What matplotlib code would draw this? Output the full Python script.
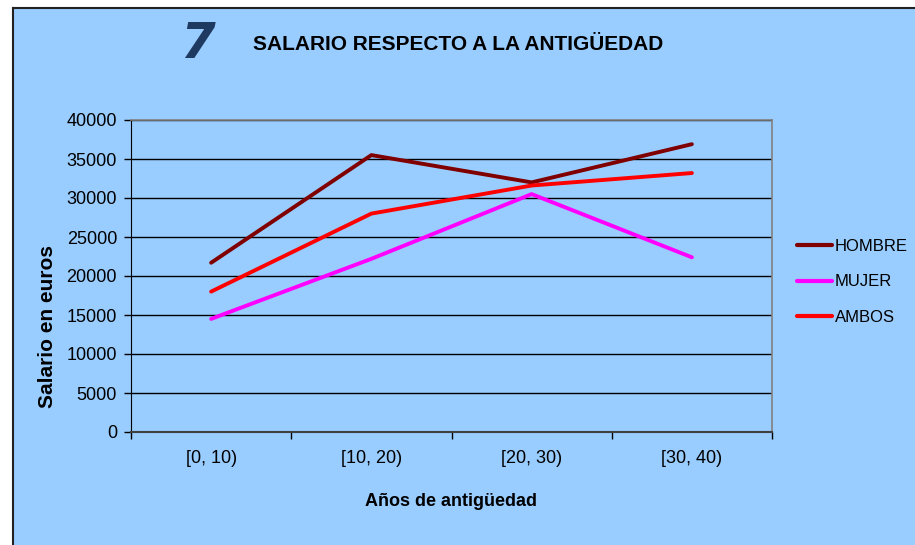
import matplotlib
matplotlib.use("Agg")
import matplotlib.pyplot as plt
from matplotlib.patches import Rectangle
import numpy as np

categories = ["[0, 10)", "[10, 20)", "[20, 30)", "[30, 40)"]
hombre = [21700, 35500, 32000, 36900]
mujer = [14500, 22200, 30500, 22400]
ambos = [18000, 28000, 31600, 33200]
series_names = ["HOMBRE", "MUJER", "AMBOS"]
y_ticks = [0, 5000, 10000, 15000, 20000, 25000, 30000, 35000, 40000]

W, H = 915, 545
fig = plt.figure(figsize=(W / 100, H / 100), dpi=100)
fig.patch.set_facecolor("white")

bg = "#99CCFF"
# outer blue panel
fig.patches.append(Rectangle((13 / W, 0), 1 - 13 / W, (H - 8) / H, transform=fig.transFigure,
                             facecolor=bg, edgecolor="none", zorder=-5))
fig.add_artist(plt.Line2D([13 / W, 13 / W], [0, (H - 8) / H], transform=fig.transFigure,
                          color="#222222", lw=1.5, zorder=-4))
fig.add_artist(plt.Line2D([13 / W, 1], [(H - 8) / H, (H - 8) / H], transform=fig.transFigure,
                          color="#222222", lw=1.5, zorder=-4))

left, right, top, bottom = 131, 772, 120, 432
ax = fig.add_axes([left / W, (H - bottom) / H, (right - left) / W, (bottom - top) / H])
ax.set_zorder(2)
ax.set_facecolor(bg)

x = np.arange(len(categories))
colors = ["#800000", "#FF00FF", "#FF0000"]
for vals, name, c in zip([hombre, mujer, ambos], series_names, colors):
    ax.plot(x, vals, color=c, lw=2.8, label=name, solid_capstyle="round", zorder=3)

ax.set_xlim(-0.5, len(categories) - 0.5)
ax.set_ylim(0, 40000)
ax.set_yticks(y_ticks)
ax.set_yticklabels([str(v) for v in y_ticks], fontsize=13, family="Liberation Sans")
ax.yaxis.grid(True, color="black", lw=1)
ax.set_axisbelow(True)

ax.set_xticks(x)
ax.set_xticklabels(categories, fontsize=13, family="Liberation Sans")
ax.set_xticks(np.arange(-0.5, len(categories)), minor=True)
ax.tick_params(axis="x", which="major", length=0, pad=13)
ax.tick_params(axis="x", which="minor", length=5, width=1, direction="out", color="black")
ax.tick_params(axis="y", length=5, width=1, direction="out", pad=5, color="black")

for s in ["top", "right"]:
    ax.spines[s].set_color("#808080")
    ax.spines[s].set_linewidth(1.2)
ax.spines["left"].set_color("black")
ax.spines["bottom"].set_color("#404040")
ax.spines["bottom"].set_linewidth(1.5)

fig.text(48 / W, 1 - 326 / H, "Salario en euros", rotation=90, ha="center", va="center",
         fontsize=15, fontweight="bold", family="Liberation Sans")
fig.text(451 / W, 1 - 502 / H, "Años de antigüedad", ha="center", va="center",
         fontsize=13, fontweight="bold", family="Liberation Sans")

fig.text(197 / W, 1 - 44 / H, "7", ha="center", va="center", fontsize=36, fontweight="bold",
         style="italic", color="#1F3A60", family="DejaVu Sans")
fig.text(253 / W, 1 - 45 / H, "SALARIO RESPECTO A LA ANTIGÜEDAD", ha="left", va="center",
         fontsize=15, fontweight="bold", family="Liberation Sans")

leg = ax.legend(loc="center left", bbox_to_anchor=(797 / W, 1 - 282 / H),
                bbox_transform=fig.transFigure, frameon=False, borderpad=0, borderaxespad=0,
                handlelength=2.1, handletextpad=0.15, labelspacing=1.25,
                prop={"family": "Liberation Sans", "size": 12})
for line in leg.get_lines():
    line.set_linewidth(3)

fig.savefig("out.png", dpi=100, facecolor=fig.get_facecolor())
